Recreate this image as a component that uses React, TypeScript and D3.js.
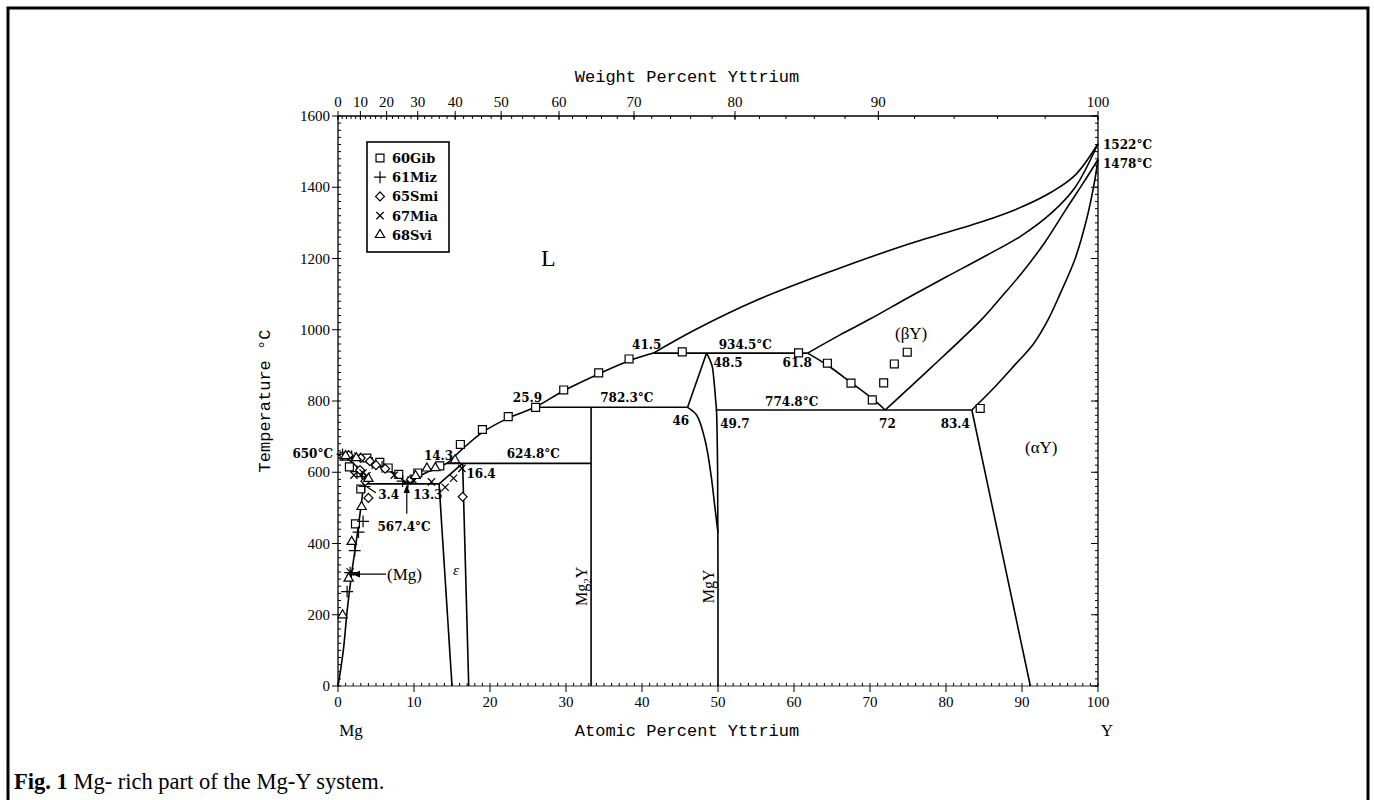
import * as d3 from "d3";

// axis ticks
const tempTicks = [0, 200, 400, 600, 800, 1000, 1200, 1400, 1600];
const atTicks = [0, 10, 20, 30, 40, 50, 60, 70, 80, 90, 100];
const wtTicks = [0, 10, 20, 30, 40, 50, 60, 70, 80, 90, 100];

// phase boundaries, [at.% Y, °C]
const liquidusMg = [[0, 650], [2.5, 638], [4.6, 624], [6.8, 605], [8.2, 585], [9.0, 567.4]];
const liquidusMid = [[9.0, 567.4], [10.8, 590], [12.6, 609], [14.3, 624.8], [16.1, 660], [19.0, 712], [22.4, 752], [25.9, 782.3], [29.7, 829], [34.3, 876], [38.3, 913], [41.5, 934.5]];
const liquidusY = [[41.5, 934.5], [47, 1000], [55, 1082], [65, 1165], [75, 1240], [85, 1305], [90, 1345], [94, 1388], [97, 1434], [100, 1522]];
const solidusBetaY = [[61.8, 934.5], [66, 985], [70, 1030], [75, 1090], [80, 1148], [85, 1205], [90, 1265], [94, 1330], [97, 1400], [100, 1522]];
const betaAlphaLeft = [[72, 774.8], [78, 893], [84.6, 1027], [87.2, 1090], [90, 1160], [93, 1245], [96, 1345], [98, 1410], [100, 1478]];
const betaAlphaRight = [[83.4, 774.8], [86, 830], [89, 900], [91.5, 960], [93.4, 1027], [95, 1100], [97, 1200], [98.5, 1310], [99.5, 1410], [100, 1478]];
const liquidusBetaLow = [[61.8, 934.5], [64.5, 899], [67.5, 852], [70, 812], [72, 774.8]];
const solvusAlphaY = [[83.4, 774.8], [91.1, 0]];
const solidusMg = [[0, 650], [1, 640], [2, 626], [2.9, 602], [3.4, 567.4]];
const solvusMg = [[3.4, 567.4], [3.0, 500], [2.5, 420], [1.8, 316], [1.2, 210], [0.7, 100], [0, 0]];
const epsTop = [[13.3, 567.4], [16.4, 624.8]];
const epsLeft = [[13.3, 567.4], [15.0, 0]];
const epsRight = [[16.4, 624.8], [17.2, 0]];
const mg2yLine = [[33.3, 782.3], [33.3, 0]];
const mgyLeftA = [[48.5, 934.5], [46, 782.3]];
const mgyLeftB = [[46, 782.3], [47.2, 760], [48.3, 690], [49.1, 590], [49.6, 500], [50, 430]];
const mgyRight = [[48.5, 934.5], [49.2, 900], [49.5, 850], [49.7, 800], [49.8, 774.8], [49.95, 600], [50, 0]];
const iso9345 = [[41.5, 934.5], [61.8, 934.5]];
const iso7823 = [[25.9, 782.3], [46, 782.3]];
const iso7748 = [[49.7, 774.8], [83.4, 774.8]];
const iso6248 = [[14.3, 624.8], [33.3, 624.8]];
const iso5674 = [[3.4, 567.4], [13.3, 567.4]];

const smoothLines = [liquidusMg, liquidusMid, liquidusY, solidusBetaY, betaAlphaLeft, betaAlphaRight, liquidusBetaLow, solidusMg, solvusMg, mgyLeftB, mgyRight];
const straightLines = [solvusAlphaY, epsTop, epsLeft, epsRight, mg2yLine, mgyLeftA, iso9345, iso7823, iso7748, iso6248, iso5674];

// experimental points
const gib60 = [[0.8, 645], [1.5, 615], [2.3, 455], [3.0, 553], [3.8, 640], [5.5, 628], [6.6, 612], [8.0, 594], [10.5, 598], [13.4, 618], [16.1, 678], [19.0, 720], [22.4, 756], [26.0, 782], [29.7, 831], [34.3, 879], [38.3, 918], [45.3, 938], [60.6, 935], [64.4, 906], [67.5, 850], [70.3, 803], [71.8, 851], [73.2, 904], [74.9, 937], [84.5, 779]];
const miz61 = [[0.6, 650], [1.2, 265], [1.6, 318], [2.2, 380], [2.7, 432], [3.3, 462], [3.5, 560], [3.2, 588], [2.5, 602], [1.8, 645], [4.5, 626], [5.8, 615], [8.5, 575], [9.2, 572]];
const smi65 = [[4.0, 528], [16.4, 531], [3.6, 575], [2.9, 606], [1.4, 648], [3.0, 640], [4.2, 631], [5.0, 620], [6.2, 610], [9.6, 580]];
const mia67 = [[12.3, 573], [14.1, 558], [15.2, 583], [16.3, 611], [2.6, 645], [3.3, 598], [3.8, 590], [7.4, 592], [9.9, 578], [2.1, 592], [1.6, 320]];
const svi68 = [[0.6, 199], [1.4, 302], [1.8, 405], [3.1, 503], [11.7, 611], [15.4, 634], [2.4, 640], [4.0, 582], [10.2, 590], [12.8, 612], [1.0, 646]];

const legendNames = ["60Gib", "61Miz", "65Smi", "67Mia", "68Svi"];
const seriesData = [gib60, miz61, smi65, mia67, svi68];
const seriesSymbols = [
  d3.symbol(d3.symbolSquare2, 80),
  d3.symbol(d3.symbolPlus, 48),
  d3.symbol(d3.symbolDiamond2, 50),
  d3.symbol(d3.symbolX, 36),
  d3.symbol(d3.symbolTriangle2, 62),
];

const x = d3.scaleLinear().domain([0, 100]).range([338, 1098]);
const y = d3.scaleLinear().domain([0, 1600]).range([686, 116]);

// weight % -> atomic %, Mg-Y
const wtToAt = (w: number) => {
  const a = w / 88.906, b = (100 - w) / 24.305;
  return (100 * a) / (a + b);
};

const smooth = d3.line<number[]>().x((d) => x(d[0])).y((d) => y(d[1])).curve(d3.curveCatmullRom.alpha(0.5));
const straight = d3.line<number[]>().x((d) => x(d[0])).y((d) => y(d[1]));

const TICK = "'Liberation Serif', serif";
const ANN = "'DejaVu Serif', serif";
const TITLE = "'Liberation Mono', monospace";

function Ann({ t, at, T, dx = 0, dy = 0, anchor = "start" }: any) {
  return (
    <text x={x(at) + dx} y={y(T) + dy} textAnchor={anchor} fontFamily={ANN} fontWeight="bold" fontSize={12}>
      {t}
    </text>
  );
}

export default function App() {
  const x0 = x(0), x1 = x(100), y0 = y(0), y1 = y(1600);
  const minorT = d3.range(0, 1601, 20);
  const minorAt = d3.range(0, 101, 1);
  const minorWt = d3.range(0, 101, 2);

  return (
    <svg width={1374} height={800} style={{ position: "fixed", left: 0, top: 0, background: "#fff" }}>
      <defs>
        <marker id="ah" viewBox="0 0 10 10" refX="9" refY="5" markerWidth="7" markerHeight="7" orient="auto">
          <path d="M0,1L10,5L0,9Z" fill="#000" />
        </marker>
      </defs>
      <rect x={8} y={8} width={1360} height={820} fill="none" stroke="#000" strokeWidth={3} />

      {/* frame */}
      <g stroke="#000" strokeWidth={1.3} fill="none">
        <line x1={x0} x2={x1} y1={y1} y2={y1} strokeWidth={1.6} />
        <line x1={x0} x2={x1} y1={y0} y2={y0} strokeWidth={0.8} />
        <line x1={x0} x2={x0} y1={y0} y2={y1} />
        <line x1={x1} x2={x1} y1={y0} y2={y1} />
      </g>

      {/* ticks */}
      <g stroke="#000" strokeWidth={1}>
        {minorT.map((t) => (
          <g key={"mt" + t}>
            <line x1={x0} x2={x0 + 3} y1={y(t)} y2={y(t)} />
            <line x1={x1} x2={x1 - 3} y1={y(t)} y2={y(t)} />
          </g>
        ))}
        {tempTicks.map((t) => (
          <g key={"t" + t}>
            <line x1={x0 - 6} x2={x0} y1={y(t)} y2={y(t)} />
            <line x1={x1 - 7} x2={x1} y1={y(t)} y2={y(t)} />
          </g>
        ))}
        {minorAt.map((a) => (
          <line key={"ma" + a} x1={x(a)} x2={x(a)} y1={y0} y2={y0 - 3} />
        ))}
        {atTicks.map((a) => (
          <line key={"a" + a} x1={x(a)} x2={x(a)} y1={y0} y2={y0 + 6} />
        ))}
        {minorWt.map((w) => (
          <line key={"mw" + w} x1={x(wtToAt(w))} x2={x(wtToAt(w))} y1={y1} y2={y1 + 3} />
        ))}
        {wtTicks.map((w) => (
          <line key={"w" + w} x1={x(wtToAt(w))} x2={x(wtToAt(w))} y1={y1 - 5} y2={y1 + 4} />
        ))}
      </g>

      <g fontFamily={TICK} fontSize={15} fill="#000">
        {tempTicks.map((t) => (
          <text key={t} x={x0 - 8} y={y(t) + 5} textAnchor="end">{t}</text>
        ))}
        {atTicks.map((a) => (
          <text key={a} x={x(a)} y={y0 + 21} textAnchor="middle">{a}</text>
        ))}
        {wtTicks.map((w) => (
          <text key={w} x={x(wtToAt(w))} y={y1 - 9} textAnchor="middle">{w}</text>
        ))}
      </g>

      {/* titles */}
      <g fontFamily={TITLE} fontSize={17} fill="#000">
        <text x={687} y={82} textAnchor="middle">Weight Percent Yttrium</text>
        <text x={687} y={736} textAnchor="middle">Atomic Percent Yttrium</text>
        <text transform={`translate(270,${(y0 + y1) / 2}) rotate(-90)`} textAnchor="middle">Temperature °C</text>
      </g>
      <g fontFamily={TICK} fontSize={17}>
        <text x={x(0) + 13} y={736} textAnchor="middle">Mg</text>
        <text x={x(100) + 9} y={736} textAnchor="middle">Y</text>
      </g>

      {/* boundaries */}
      <g fill="none" stroke="#000" strokeWidth={1.6}>
        {smoothLines.map((d, i) => <path key={"s" + i} d={smooth(d as any) || ""} />)}
        {straightLines.map((d, i) => <path key={"l" + i} d={straight(d as any) || ""} />)}
      </g>

      {/* data points */}
      <g stroke="#000" strokeWidth={1.2}>
        {seriesData.map((s, si) =>
          s.map((p, i) => (
            <path key={si + "-" + i} d={seriesSymbols[si]() || ""} transform={`translate(${x(p[0])},${y(p[1])})`} fill={si === 1 || si === 3 ? "none" : "#fff"} />
          ))
        )}
      </g>

      {/* legend */}
      <rect x={367} y={142} width={82} height={110} fill="#fff" stroke="#000" strokeWidth={1.6} />
      {legendNames.map((n, i) => (
        <g key={n} transform={`translate(380,${158 + i * 19.2})`}>
          <path d={seriesSymbols[i]() || ""} fill="none" stroke="#000" strokeWidth={1.2} />
          <text x={12} y={5} fontFamily={ANN} fontWeight="bold" fontSize={13}>{n}</text>
        </g>
      ))}

      {/* arrows */}
      <g stroke="#000" strokeWidth={1.2}>
        <line x1={x(9.05)} x2={x(9.05)} y1={y(567.4) + 30} y2={y(567.4) + 2} markerEnd="url(#ah)" />
        <line x1={386} x2={x(1.8) + 1} y1={y(314)} y2={y(314)} markerEnd="url(#ah)" />
        <line x1={x(3.4) + 12} x2={x(3.4) + 3} y1={y(567.4) + 9} y2={y(567.4) + 3} />
      </g>

      {/* annotations */}
      <text x={333} y={458} textAnchor="end" fontFamily={ANN} fontWeight="bold" fontSize={12}>650°C</text>
      <Ann t="3.4" at={5.3} T={567.4} dy={15} />
      <Ann t="13.3" at={9.9} T={567.4} dy={15} />
      <Ann t="567.4°C" at={5.2} T={567.4} dy={47} />
      <Ann t="14.3" at={11.3} T={624.8} dy={-3} />
      <Ann t="16.4" at={16.9} T={624.8} dy={15} />
      <Ann t="624.8°C" at={22.2} T={624.8} dy={-5} />
      <Ann t="25.9" at={23.0} T={782.3} dy={-5} />
      <Ann t="782.3°C" at={34.5} T={782.3} dy={-5} />
      <Ann t="41.5" at={38.7} T={934.5} dy={-4} />
      <Ann t="934.5°C" at={50.1} T={934.5} dy={-4} />
      <Ann t="48.5" at={49.4} T={934.5} dy={14} />
      <Ann t="61.8" at={58.5} T={934.5} dy={14} />
      <Ann t="46" at={44.0} T={782.3} dy={18} />
      <Ann t="49.7" at={50.3} T={774.8} dy={18} />
      <Ann t="774.8°C" at={56.2} T={774.8} dy={-4} />
      <Ann t="72" at={71.2} T={774.8} dy={18} />
      <Ann t="83.4" at={79.3} T={774.8} dy={18} />
      <text x={x(100) + 5} y={y(1522) + 5} fontFamily={ANN} fontWeight="bold" fontSize={12}>1522°C</text>
      <text x={x(100) + 5} y={y(1478) + 9} fontFamily={ANN} fontWeight="bold" fontSize={12}>1478°C</text>

      <g fontFamily={TICK} fontSize={17}>
        <text x={387} y={580}>(Mg)</text>
        <text x={453} y={575} fontStyle="italic" fontSize={15}>ε</text>
        <text x={895} y={339}>(βY)</text>
        <text x={1025} y={453}>(αY)</text>
        <text x={541} y={266} fontSize={24}>L</text>
        <text transform={`translate(${x(33.3) - 4},${y(280)}) rotate(-90)`} textAnchor="middle" fontSize={16}>
          Mg<tspan fontSize={11} dy={4}>2</tspan><tspan dy={-4}>Y</tspan>
        </text>
        <text transform={`translate(${x(50) - 4},${y(280)}) rotate(-90)`} textAnchor="middle" fontSize={16}>MgY</text>
      </g>

      {/* caption */}
      <text x={14} y={789} fontFamily={TICK} fontSize={22.5}>
        <tspan fontWeight="bold">Fig. 1</tspan>  Mg- rich part of the Mg-Y system.
      </text>
    </svg>
  );
}
